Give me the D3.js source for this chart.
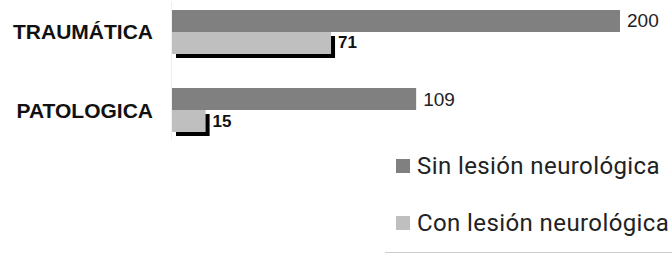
<!DOCTYPE html>
<html>
<head>
<meta charset="utf-8">
<script src="https://cdn.jsdelivr.net/npm/d3@7"></script>
<style>
  body { margin: 0; background: #fff; }
  svg { display: block; }
</style>
</head>
<body>
<div id="chart"></div>
<script>
var CATEGORIES = ["TRAUMÁTICA", "PATOLOGICA"],
SERIES = ["Sin lesión neurológica", "Con lesión neurológica"],
SIN_LESION = [200, 109],
CON_LESION = [71, 15],
COLORS = ["#808080", "#bfbfbf"];

var W = 672, H = 254,
X0 = 172, X1 = 620,
SHADOW = 4;

var svg = d3.select("#chart").append("svg")
  .attr("width", W)
  .attr("height", H);

var x = d3.scaleLinear().domain([0, 200]).range([X0, X1]);
var y = d3.scaleBand().domain(CATEGORIES)
  .range([10, 132]).paddingInner(0.436).paddingOuter(0);
var ys = d3.scaleBand().domain(SERIES).range([0, y.bandwidth()]);

// faint axis line on the left of the bars
svg.append("line")
  .attr("x1", X0 - 0.5).attr("x2", X0 - 0.5)
  .attr("y1", 2).attr("y2", 140)
  .style("stroke", "#eee");

// category labels
svg.selectAll("text.cat")
  .data(CATEGORIES)
  .enter().append("text")
  .attr("class", "cat")
  .attr("x", 153)
  .attr("y", function(d) { return y(d) + y.bandwidth() / 2; })
  .attr("text-anchor", "end")
  .attr("dominant-baseline", "central")
  .style("font-family", "'Liberation Sans', Arial, sans-serif")
  .style("font-weight", "bold")
  .style("font-size", "21px")
  .style("fill", "#111")
  .text(function(d) { return d; });

CATEGORIES.forEach(function(cat, i) {
  var g = svg.append("g");

  // dark bar
  var v0 = SIN_LESION[i];
  g.append("rect")
    .attr("x", x(0))
    .attr("y", y(cat) + ys(SERIES[0]))
    .attr("width", x(v0) - x(0))
    .attr("height", ys.bandwidth())
    .style("fill", COLORS[0]);
  g.append("text")
    .attr("x", x(v0) + 7)
    .attr("y", y(cat) + ys(SERIES[0]) + ys.bandwidth() / 2)
    .attr("dominant-baseline", "central")
    .style("font-family", "'Liberation Sans', Arial, sans-serif")
    .style("font-size", "19px")
    .style("fill", "#222")
    .text(v0);

  // light bar with black drop shadow
  var v1 = CON_LESION[i];
  g.append("rect")
    .attr("x", x(0) + SHADOW)
    .attr("y", y(cat) + ys(SERIES[1]) + SHADOW)
    .attr("width", x(v1) - x(0))
    .attr("height", ys.bandwidth())
    .style("fill", "#000");
  g.append("rect")
    .attr("x", x(0))
    .attr("y", y(cat) + ys(SERIES[1]))
    .attr("width", x(v1) - x(0))
    .attr("height", ys.bandwidth())
    .style("fill", COLORS[1]);
  g.append("text")
    .attr("x", x(v1) + SHADOW + 3)
    .attr("y", y(cat) + ys(SERIES[1]) + ys.bandwidth() / 2)
    .attr("dominant-baseline", "central")
    .style("font-family", "'Liberation Sans', Arial, sans-serif")
    .style("font-weight", "bold")
    .style("font-size", "17px")
    .style("fill", "#111")
    .text(v1);
});

// legend
var legend = svg.selectAll("g.legend")
  .data(SERIES)
  .enter().append("g")
  .attr("class", "legend")
  .attr("transform", function(d, i) { return "translate(396," + (166 + i * 57) + ")"; });

legend.append("rect")
  .attr("x", 0)
  .attr("y", -7)
  .attr("width", 14)
  .attr("height", 14)
  .style("fill", function(d, i) { return COLORS[i]; });

legend.append("text")
  .attr("x", 21)
  .attr("y", 0)
  .attr("dominant-baseline", "central")
  .style("font-family", "Roboto, sans-serif")
  .style("font-size", "24px")
  .style("letter-spacing", "0.4px")
  .style("fill", "#222")
  .text(function(d) { return d; });

svg.append("line")
  .attr("x1", 385).attr("x2", W)
  .attr("y1", 252.5).attr("y2", 252.5)
  .style("stroke", "#ccc")
  .style("stroke-width", 1);
</script>
</body>
</html>
